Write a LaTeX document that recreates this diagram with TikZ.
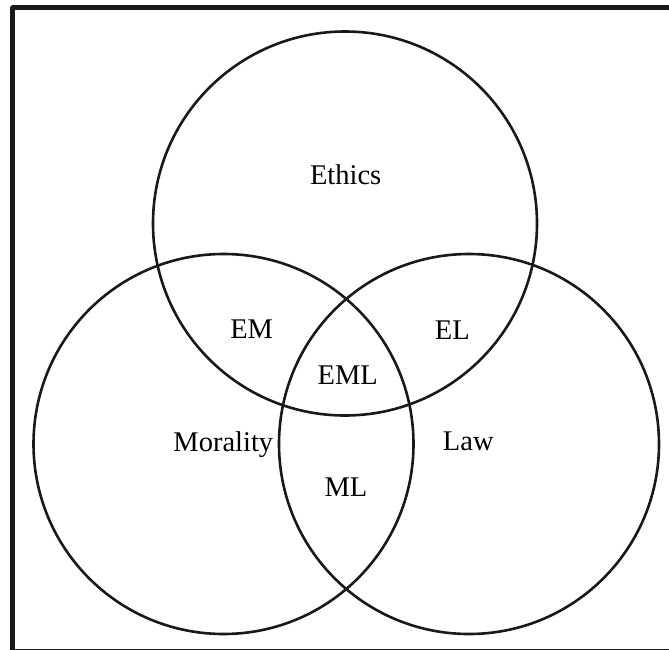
\documentclass[tikz,border=0pt]{standalone}
\usepackage{fontspec}
\setmainfont{Liberation Serif}
\usepackage{tikz}
\tikzset{venn/.style={line width=2.6pt,color=black!90},
  lbl/.style={font=\fontsize{28.5}{34}\selectfont,inner sep=0pt}}
\begin{document}
\begin{tikzpicture}[line cap=round,line join=round,x=1.0pt,y=-1.0pt]
        \useasboundingbox (0,0) rectangle (669,650);
        \draw[line width=5pt,color=black!90] (12.8,8) rectangle (672,651.5);
        \draw [venn] (345,223.5) circle (192);
        \draw [venn] (223.5,444) circle (190);
        \draw [venn] (469,444) circle (190);
        \node[lbl] (ethics) at (345.7,175) {Ethics};
        \node[lbl] (morality) at (223.3,445) {Morality};
        \node[lbl] (law) at (468.3,441.7) {Law};
        \node[lbl] (em) at (251.7,329.3) {EM};
        \node[lbl] (el) at (452.3,330) {EL};
        \node[lbl] (eml) at (347.7,375) {EML};
        \node[lbl] (ml) at (346,487.3) {ML};
      \end{tikzpicture}
\end{document}
